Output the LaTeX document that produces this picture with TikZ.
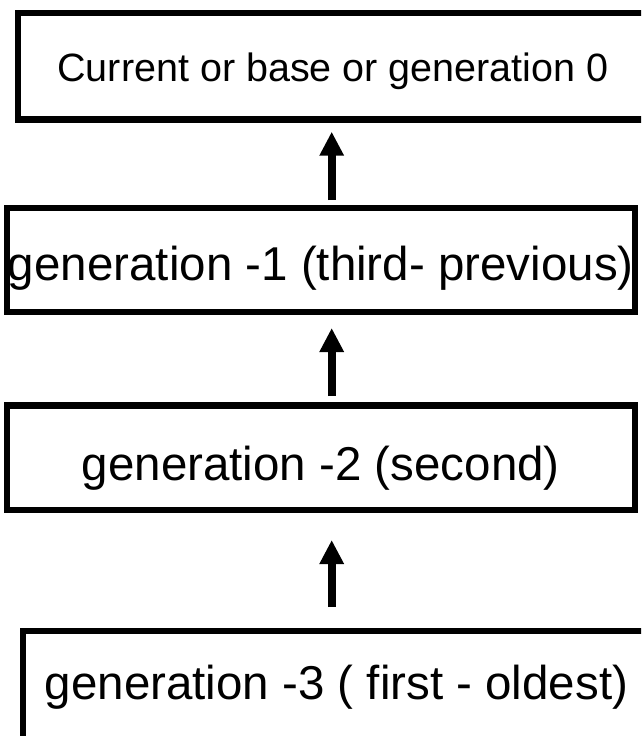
\documentclass[tikz,border=0pt]{standalone}
\usepackage{fontspec}
\setmainfont{Liberation Sans}
\usetikzlibrary{arrows.meta}
\begin{document}
\begin{tikzpicture}[x=1pt,y=-1pt,
  box/.style={draw, line width=6.3pt, inner sep=0pt, outer sep=0pt},
  bigtext/.style={font=\fontsize{47.5}{57}\selectfont},
  arr/.style={line width=8pt, -{Triangle[length=24pt,width=23pt]}}]
\clip (0,0) rectangle (641,736);
\node[box, minimum width=630pt, minimum height=106.8pt,
      font=\fontsize{39.5}{47}\selectfont, text height=29.8pt, text depth=0pt]
      (b1) at (333,66.1) {Current or base or generation 0};
\node[box, bigtext, minimum width=627.7pt, minimum height=104.3pt,
      text height=40.3pt, text depth=0pt]
      (b2) at (320.85,259.85) {generation -1 (third- previous)};
\node[box, bigtext, minimum width=627.7pt, minimum height=104.5pt,
      text height=44.5pt, text depth=0pt]
      (b3) at (320.85,457.75) {generation -2 (second)};
\node[box, bigtext, minimum width=627pt, minimum height=129pt,
      text height=7pt, text depth=0pt]
      (b4) at (336.5,695.5) {generation -3 ( first - oldest)};
\coordinate (ax) at (331.7,0);
\draw[arr, shorten <=7.7pt, shorten >=12.2pt] (b2.north -| ax) -- (b1.south -| ax);
\draw[arr, shorten <=9.5pt, shorten >=16pt] (b3.north -| ax) -- (b2.south -| ax);
\draw[arr, shorten <=24pt, shorten >=30pt] (b4.north -| ax) -- (b3.south -| ax);
\end{tikzpicture}
\end{document}
